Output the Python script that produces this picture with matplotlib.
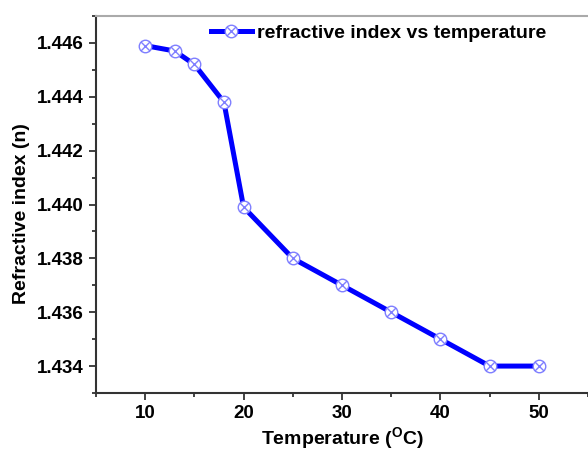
import matplotlib
matplotlib.use("Agg")
import matplotlib.pyplot as plt
from matplotlib.path import Path
from matplotlib.ticker import MultipleLocator, FormatStrFormatter
import numpy as np

temperature = [10, 13, 15, 18, 20, 25, 30, 35, 40, 45, 50]
refractive_index = [1.4459, 1.4457, 1.4452, 1.4438, 1.4399, 1.4380, 1.4370,
                    1.4360, 1.4350, 1.4340, 1.4340]
series_label = "refractive index vs temperature"
x_label = r"Temperature ($\mathbf{^{O}}$C)"
y_label = "Refractive index (n)"

plt.rcParams['font.family'] = ['Liberation Sans', 'DejaVu Sans']
plt.rcParams['font.weight'] = 'bold'
plt.rcParams['mathtext.fontset'] = 'custom'
plt.rcParams['mathtext.rm'] = 'Liberation Sans:bold'
plt.rcParams['mathtext.bf'] = 'Liberation Sans:bold'

# circled-X marker
circle = Path.unit_circle()
d = np.sqrt(0.5)
xpath = Path([(-d, -d), (d, d), (-d, d), (d, -d)],
             [Path.MOVETO, Path.LINETO, Path.MOVETO, Path.LINETO])
circx = Path.make_compound_path(circle, xpath)

fig = plt.figure(figsize=(5.88, 4.5), dpi=100)
ax = fig.add_axes([96/588, 57/450, 1 - 96/588, (393-16)/450])

ax.plot(temperature, refractive_index, color='#0000ff', lw=3.6,
        marker=circx, markersize=9, markerfacecolor='white',
        markeredgecolor='#7f7fff', markeredgewidth=1.0, label=series_label)

ax.set_xlim(5, 55)
ax.set_ylim(1.433, 1.447)
ax.xaxis.set_major_locator(MultipleLocator(10))
ax.xaxis.set_minor_locator(MultipleLocator(5))
ax.yaxis.set_major_locator(MultipleLocator(0.002))
ax.yaxis.set_minor_locator(MultipleLocator(0.001))
ax.yaxis.set_major_formatter(FormatStrFormatter('%.3f'))

ax.tick_params(axis='both', which='major', direction='out', length=5,
               width=1.3, labelsize=13.5, color='#333333', pad=4)
ax.tick_params(axis='both', which='minor', direction='out', length=3,
               width=1.3, color='#333333')
for lbl in ax.get_xticklabels() + ax.get_yticklabels():
    lbl.set_fontweight('bold')

ax.spines['left'].set_linewidth(1.5)
ax.spines['bottom'].set_linewidth(1.5)
ax.spines['left'].set_color('#333333')
ax.spines['bottom'].set_color('#333333')
ax.spines['top'].set_color('#aaaaaa')
ax.spines['top'].set_linewidth(1.5)
ax.spines['right'].set_visible(False)

ax.set_xlabel(x_label, fontsize=14, fontweight='bold', labelpad=2)
ax.set_ylabel(y_label, fontsize=14, fontweight='bold')
ax.yaxis.set_label_coords(-0.134, 0.477)

leg = ax.legend(loc='upper left', bbox_to_anchor=(211/588, 1 - 24/450),
                bbox_transform=fig.transFigure, frameon=False,
                fontsize=14, handlelength=2.1, handletextpad=0.25,
                borderaxespad=0, borderpad=0)
for t in leg.get_texts():
    t.set_fontweight('bold')

fig.savefig("out.png", dpi=100)
